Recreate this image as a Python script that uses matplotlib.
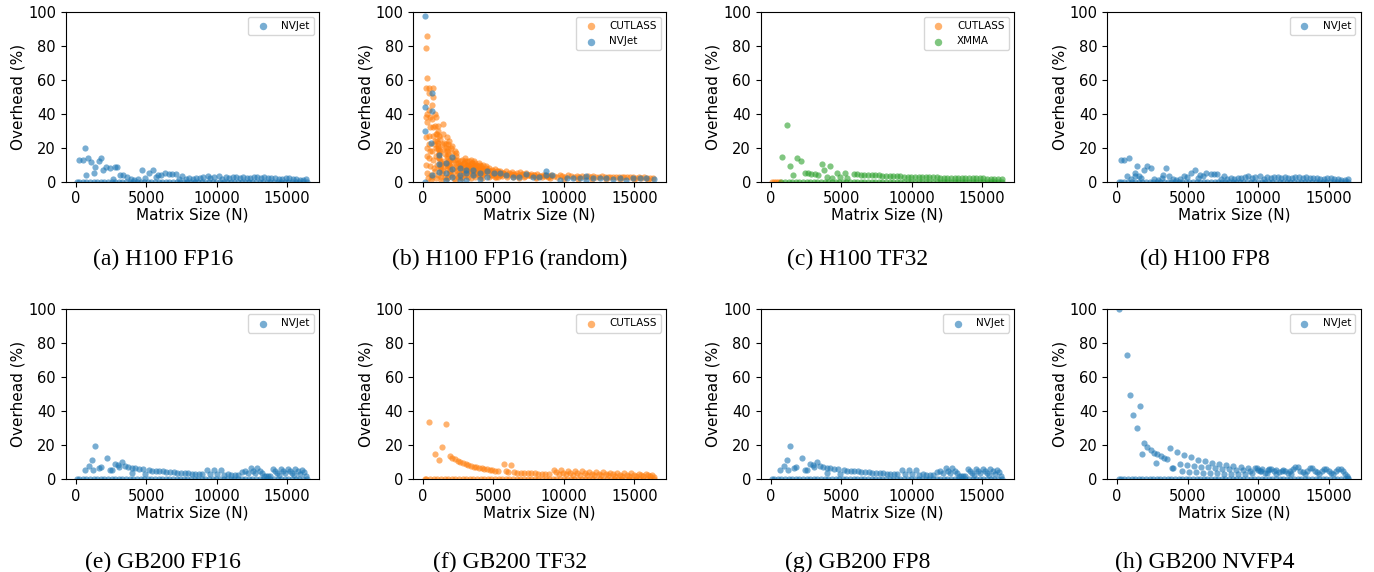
import matplotlib.pyplot as plt
import numpy as np

# matrix sizes where every kernel also has a run with ~0% overhead
sizes = [128, 256, 512, 768, 1024, 1280, 1536, 1792, 2048, 2304, 2560, 2816, 3072,
         3328, 3584, 3840, 4096, 4352, 4608, 4864, 5120, 5376, 5632, 5888, 6144,
         6400, 6656, 6912, 7168, 7424, 7680, 7936, 8192, 8448, 8704, 8960, 9216,
         9472, 9728, 9984, 10240, 10496, 10752, 11008, 11264, 11520, 11776, 12032,
         12288, 12544, 12800, 13056, 13312, 13568, 13824, 14080, 14336, 14592,
         14848, 15104, 15360, 15616, 15872, 16128, 16384]

# (a) H100 FP16, NVJet
a_x = [256, 512, 640, 750, 870, 1110, 1275, 1390, 1630, 1800, 1915, 2150, 2410, 2690,
       2810, 2930, 3170, 3400, 3640, 3900, 4150, 4400, 4700, 4940, 5230, 5490, 5700,
       5840, 6080, 6320, 6620, 6860, 7100, 7350, 7550, 7800, 8050, 8300, 8550, 8800,
       9050, 9390, 9550, 9800, 10150, 10400, 10650, 10900, 11150, 11400, 11650, 11900,
       12150, 12400, 12650, 12900, 13150, 13400, 13650, 13900, 14150, 14400, 14650,
       14900, 15150, 15400, 15650, 15900, 16150, 16380]
a_y = [12.5, 12.5, 20.0, 4.1, 14.1, 11.4, 5.3, 8.8, 12.2, 14.1, 6.9, 8.8, 8.1, 1.4,
       8.8, 8.8, 3.9, 3.7, 2.9, 1.5, 1.0, 1.5, 6.9, 1.9, 4.9, 7.1, 2.5,
       3.7, 3.9, 5.3, 4.3, 4.7, 4.7, 1.5, 3.5, 1.5, 2.0, 1.5, 2.0, 2.0,
       2.5, 3.3, 2.0, 2.5, 3.3, 1.8, 2.5, 2.0, 2.5, 2.8, 2.0, 2.5,
       2.0, 2.2, 2.5, 2.5, 2.0, 2.5, 2.0, 2.0, 2.0, 1.8, 1.5,
       2.2, 2.0, 1.5, 1.5, 1.2, 1.0, 1.5]

# (b) H100 FP16 (random), CUTLASS and NVJet
b_cut_x = [200, 280, 300, 250, 230, 260, 220, 300, 240, 270, 320, 250, 300, 350,
           400, 450, 420, 480, 500, 430, 460, 520, 450, 500, 550, 600,
           700, 720, 650, 680, 750, 700, 760, 640, 720, 780, 680,
           850, 900, 880, 920, 860, 950, 900, 980, 870, 950,
           1050, 1100, 1150, 1200, 1100, 1250, 1150, 1300, 1200, 1050, 1300,
           1400, 1450, 1500, 1400, 1550, 1500, 1600, 1450, 1550,
           1700, 1750, 1800, 1700, 1850, 1750, 1900, 1800,
           2000, 2100, 2050, 2150, 2000, 2200, 2100, 2200,
           2400, 2500, 2600, 2450, 2550, 2700, 2800, 2900, 3000, 3100, 3200, 3000,
           3300, 3100, 3400, 3500, 3600, 3700, 3800, 3900, 4000, 4100, 4200, 4300,
           4400, 3500, 3700, 4000, 4200, 4500, 2650, 2950, 3250, 3550, 3850, 4150,
           4700, 4900, 5100, 5300, 5500, 5700, 5900, 6100, 6300, 6500, 6700, 6900,
           7100, 7300, 7500, 4800, 5200, 5600, 6000, 6400, 6800, 7200,
           7700, 7900, 8100, 8300, 8500, 8700, 8900, 9100, 9300, 9500, 9700, 9900,
           10100, 10300, 10500, 10700, 10900, 11100, 11300, 11500, 11700, 11900,
           12100, 12300, 12500, 12700, 12900, 13100, 13300, 13500, 13700, 13900,
           14100, 14300, 14500, 14700, 14900, 15100, 15300, 15500, 15700, 15900,
           16100, 16300, 8000, 9000, 10000, 11000, 12000, 13000, 14000, 15000, 16000]
b_cut_y = [78.5, 85.5, 61.0, 55.0, 47.0, 40.0, 38.0, 35.0, 26.0, 20.0, 15.0, 10.0, 5.0, 2.0,
           52.0, 55.0, 42.0, 38.0, 32.0, 27.0, 22.0, 18.0, 14.0, 9.0, 4.0, 1.0,
           55.0, 50.0, 45.0, 37.0, 32.0, 27.0, 22.0, 18.0, 13.0, 8.0, 3.0,
           40.0, 38.0, 33.0, 28.0, 24.0, 20.0, 15.0, 10.0, 6.0, 2.0,
           33.0, 30.0, 27.0, 25.0, 21.0, 18.0, 14.0, 11.0, 8.0, 4.0, 1.0,
           34.0, 28.0, 23.0, 19.0, 16.0, 12.0, 9.0, 6.0, 3.0,
           26.0, 22.0, 19.0, 15.0, 12.0, 9.0, 6.0, 3.0,
           20.0, 21.0, 17.0, 14.0, 11.0, 8.0, 5.0, 2.0,
           13.0, 11.0, 9.0, 7.0, 5.0, 3.0, 13.0, 11.0, 14.0, 12.0, 10.0, 8.0,
           6.0, 4.0, 13.0, 11.0, 12.0, 9.0, 10.0, 7.0, 11.0, 9.0, 8.0, 10.0,
           6.0, 5.0, 3.0, 4.0, 2.0, 9.0, 10.0, 6.0, 9.0, 7.0, 5.0, 6.5,
           8.0, 7.0, 7.5, 6.0, 6.5, 5.0, 6.0, 5.0, 5.5, 4.5, 5.0, 5.5,
           4.5, 5.0, 4.0, 4.0, 3.0, 3.5, 2.5, 3.0, 2.0, 3.0,
           4.5, 4.0, 4.5, 3.5, 4.0, 4.0, 3.5, 4.0, 3.5, 3.0, 4.0, 3.5,
           3.0, 4.0, 3.5, 3.0, 3.5, 3.0, 3.5, 3.0, 3.5, 3.0,
           3.2, 3.0, 2.8, 3.2, 3.0, 2.8, 3.0, 2.5, 3.0, 2.8,
           2.5, 2.8, 2.6, 2.5, 2.7, 2.4, 2.6, 2.3, 2.5, 2.2,
           2.4, 2.0, 2.0, 2.0, 1.8, 1.8, 1.5, 1.5, 1.5, 1.5, 1.2]
# more CUTLASS runs filling the dense cloud between 1000 and 9000
b_cut2_x = [1000, 1080, 1160, 1240, 1320, 1020, 1100, 1180, 1260, 1340, 1060, 1140, 1220, 1300, 1380,
            1620, 1680, 1760, 1840, 1920, 1980, 1640, 1720, 1800, 1880, 1960, 1660, 1740, 1820, 1900,
            2250, 2300, 2350, 2420, 2480, 2320, 2380, 2440, 2260, 2340,
            2600, 2700, 2800, 2900, 3000, 3100, 3200, 3300, 3400, 3500, 2650, 2750, 2850, 2950, 3050,
            3150, 3250, 3350, 3450, 3550, 2620, 2780, 2980, 3180, 3380, 3580,
            3650, 3750, 3850, 3950, 4050, 4150, 4250, 4350, 4450, 4550, 3680, 3880, 4080, 4280, 4480,
            3620, 3820, 4020, 4220, 4420,
            4650, 4750, 4850, 4950, 5050, 5150, 5250, 5350, 5450, 5550, 4700, 4900, 5100, 5300, 5500,
            5650, 5850, 6050, 6250, 6450, 6650, 6850, 7050, 7250, 7450, 7650, 7850, 8050, 8250,
            8450, 8650, 8850, 9050]
b_cut2_y = [24, 20, 16, 12, 7, 28, 23, 17, 10, 5, 19, 14, 9, 3, 22,
            22, 18, 14, 10, 7, 4, 11, 8, 16, 5, 13, 20, 2, 24, 9,
            18, 13, 9, 6, 3, 15, 11, 4, 1, 17,
            12, 10, 8, 6, 12, 10, 8, 9, 7, 11, 9, 7, 5, 11, 9,
            7, 12, 6, 10, 8, 3, 2, 4, 3, 2, 5,
            9, 8, 7, 6, 8, 7, 6, 5, 7, 6, 11, 9, 10, 6, 8,
            4, 5, 3, 4, 5,
            7, 6, 5, 6, 5, 4, 6, 5, 4, 5, 3, 4, 3, 3, 4,
            5, 4.5, 4, 4.5, 4, 3.5, 4, 4.5, 3.5, 4, 3.5, 4, 3, 3.5,
            3, 3.5, 3, 3.5]
b_nv_x = [163, 163, 163, 163, 600, 682, 682, 680, 1110, 1157, 1157, 1630, 1630, 1630,
          2100, 2100, 2100, 2600, 2600, 2600, 3070, 3070, 3070, 3540, 3540, 4020, 4020,
          4570, 4570, 5040, 5440, 5900, 6370, 6840, 7310, 7780, 8250, 8720, 8720, 9190,
          9730, 10200, 10670, 11140, 11600, 11600, 12080, 12550, 13020, 13490, 13960,
          14430, 14900, 15370, 15840, 16380]
b_nv_y = [97.5, 44.0, 29.8, 0.0, 23.0, 52.4, 41.8, 3.9, 10.2, 15.7, 5.5, 10.8, 5.0, 1.0,
          14.3, 7.3, 2.5, 7.8, 3.9, 1.0, 7.0, 5.0, 1.2, 7.0, 4.0, 5.0, 1.5,
          6.5, 3.0, 5.0, 5.3, 4.0, 3.0, 3.0, 4.5, 3.0, 2.8, 6.5, 4.0, 3.9,
          1.0, 2.0, 2.0, 2.0, 3.3, 1.0, 2.0, 2.0, 2.0, 1.7, 2.0,
          1.0, 2.0, 2.0, 2.0, 1.5]

# (c) H100 TF32, CUTLASS and XMMA
c_cut_x = [128, 256, 384, 512, 640]
c_cut_y = [0.0, 0.0, 0.0, 0.0, 0.0]
c_xm_x = [827, 1186, 1346, 1584, 1867, 2127, 2411, 2648, 2884, 3121, 3358, 3665, 3783,
          3980, 4186, 4350, 4733, 4900, 5254, 5450,
          5888, 6144, 6400, 6656, 6912, 7168, 7424, 7680, 7936, 8192, 8448, 8704, 8960,
          9216, 9472, 9728, 9984, 10240, 10496, 10752, 11008, 11264, 11520, 11776,
          12032, 12288, 12544, 12800, 13056, 13312, 13568, 13824, 14080, 14336, 14592,
          14848, 15104, 15360, 15616, 15872, 16128, 16384]
c_xm_y = [14.3, 33.4, 9.2, 3.9, 13.7, 12.0, 5.3, 4.9, 4.5, 4.3, 3.9, 10.4, 6.8,
          2.9, 9.2, 2.0, 5.3, 2.5, 4.9, 2.0,
          4.4, 4.3, 4.2, 4.1, 4.0, 3.9, 3.8, 3.7, 3.6, 3.5, 3.4, 3.3, 3.2,
          3.1, 3.05, 3.0, 2.9, 2.85, 2.8, 2.7, 2.65, 2.6, 2.55, 2.5, 2.45,
          2.4, 2.35, 2.3, 2.25, 2.2, 2.15, 2.1, 2.05, 2.0, 1.95,
          1.9, 1.9, 1.85, 1.8, 1.75, 1.7, 1.7]

# (d) H100 FP8, NVJet
d_x = [256, 512, 730, 870, 1000, 1230, 1280, 1420, 1550, 1700, 1880, 2150, 2410, 2600,
       2900, 3150, 3270, 3460, 3700, 3950, 4200, 4450, 4707, 4944, 5228, 5488, 5700,
       5843, 6080, 6317, 6625, 6862, 7098, 7350, 7548, 7800, 8050, 8300, 8550, 8800,
       9050, 9300, 9550, 9800, 10100, 10400, 10650, 10900, 11150, 11400, 11650, 11900,
       12150, 12400, 12650, 12900, 13150, 13400, 13650, 13900, 14150, 14400, 14650,
       14900, 15150, 15400, 15650, 15900, 16150, 16380]
d_y = [12.5, 12.5, 3.3, 14.1, 1.5, 3.3, 5.3, 9.2, 3.5, 2.0, 6.9, 9.2, 8.3, 1.5,
       1.0, 2.0, 4.0, 7.9, 3.5, 1.5, 1.2, 1.5, 3.3, 3.0, 4.9, 7.1, 2.0,
       3.7, 3.3, 5.3, 4.5, 4.7, 4.3, 1.5, 3.5, 1.5, 2.0, 1.8, 2.0, 2.2,
       2.5, 3.3, 2.2, 2.5, 3.3, 1.8, 2.5, 2.0, 2.5, 2.8, 2.0, 2.5,
       2.0, 2.2, 2.5, 2.5, 2.0, 2.5, 2.0, 2.0, 2.0, 1.8, 1.5,
       2.2, 2.0, 1.5, 1.5, 1.2, 1.0, 1.5]

# (e) GB200 FP16, NVJet
e_x = [640, 920, 1155, 1230, 1392, 1630, 1820, 2200, 2460, 2580, 2770, 3000, 3100, 3310,
       3500, 3750, 4000, 4250, 4500, 4750, 4000, 4900, 5200, 5450, 5700, 5950, 6200,
       6450, 6700, 6950, 7200, 7500, 7750, 8000, 8250, 8500, 8750, 9000, 9300, 9550,
       9800, 10050, 10300, 10550, 10800, 11050, 11300, 11550, 11800, 12000, 12200,
       12450, 12600, 12750, 12900, 13050, 13200, 13350, 13500, 13650, 13800, 14000,
       14150, 14300, 14450, 14550, 14700, 14850, 15050, 15200, 15350, 15500, 15600,
       15750, 15900, 16050, 16200, 16350]
e_y = [5.3, 7.7, 11.2, 5.1, 19.3, 6.3, 7.3, 12.3, 5.1, 5.1, 8.9, 8.0, 7.0, 9.8,
       7.5, 7.0, 6.7, 6.3, 6.0, 5.7, 3.3, 2.7, 5.1, 5.0, 4.9, 4.7, 4.5,
       4.0, 4.2, 4.0, 3.8, 3.5, 3.6, 3.4, 3.0, 3.2, 2.8, 3.0, 5.5, 3.0,
       5.3, 2.8, 5.1, 2.6, 2.7, 2.6, 2.5, 2.5, 4.3, 4.8, 3.5,
       6.5, 5.0, 3.8, 6.3, 4.8, 3.3, 2.0, 2.0, 2.0, 1.5, 6.0,
       4.8, 3.5, 2.2, 6.0, 4.8, 3.5, 6.0, 4.8, 3.5, 2.2, 5.8,
       4.5, 3.2, 5.5, 4.0, 2.0]

# (f) GB200 TF32, CUTLASS
f_x = [400, 870, 1140, 1370, 1650, 1890, 2080, 2270, 2460, 2650, 2840, 3030, 3220, 3410,
       3600, 3790, 3980, 4170, 4360, 4550, 4740, 4930, 5120, 5310, 5750, 5900, 6050,
       6250, 6450, 6700, 6950, 7200, 7450, 7700, 7950, 8200, 8450, 8700, 8950,
       9300, 9470, 9640, 9800, 9970, 10140, 10300, 10470, 10640, 10800, 10970, 11140,
       11300, 11470, 11640, 11800, 11970, 12140, 12300, 12470, 12640, 12800, 12970,
       13140, 13300, 13470, 13640, 13800, 13970, 14140, 14300, 14470, 14640, 14800,
       14970, 15140, 15300, 15470, 15640, 15800, 15970, 16140, 16250, 16380]
f_y = [33.5, 14.5, 11.2, 19.0, 32.5, 13.7, 12.5, 11.5, 10.6, 9.9, 9.2, 8.6, 8.1, 7.6,
       7.2, 6.8, 6.5, 6.2, 5.9, 5.6, 5.4, 5.2, 5.0, 4.8, 8.9, 4.6, 4.4,
       8.3, 3.9, 3.8, 3.7, 3.6, 3.5, 3.4, 3.3, 3.2, 3.1, 3.0, 2.9,
       5.5, 4.0, 2.8, 5.2, 3.8, 2.7, 5.0, 3.6, 2.6, 4.8, 3.4, 2.5,
       4.6, 3.3, 2.4, 4.4, 3.2, 2.3, 4.2, 3.0, 2.2, 4.0, 2.9,
       2.1, 3.8, 2.7, 2.0, 3.6, 2.6, 1.9, 3.5, 2.5, 1.8, 3.3,
       2.4, 1.7, 3.2, 2.3, 1.6, 3.1, 2.2, 1.5, 2.6, 1.0]

# (g) GB200 FP8, NVJet -- reads the same as (e) in the picture
g_x = list(e_x)
g_y = list(e_y)

# (h) GB200 NVFP4, NVJet
h_x = [140, 666, 900, 1136, 1420, 1654, 1775, 1893, 2130, 2370, 2600, 2790, 2840, 3080,
       3320, 3550, 3740, 3860, 3970,
       4240, 4750, 5250, 5750, 6250, 6750, 7250, 7750, 8250, 8750, 9250, 9750, 10250,
       10750, 11250, 11750, 12250,
       4450, 4950, 5450, 5950, 6450, 6950, 7450, 7950, 8450, 8950, 9450, 9950,
       4600, 5100, 5600, 6100, 6600, 7100, 7600, 8100, 8600, 9100, 9600, 10100, 10600,
       10000, 10200, 10500, 10700, 10900, 11100, 11300, 11500, 11700, 11900, 12100,
       12300, 12500, 12650, 12850, 13000, 13150, 13300, 13500, 13650, 13850, 14000,
       14150, 14300, 14500, 14650, 14850, 15000, 15150, 15300, 15500, 15650, 15850,
       16000, 16150, 16300, 16380]
h_y = [100.0, 72.9, 49.3, 37.4, 30.0, 42.8, 14.5, 21.3, 18.7, 17.0, 15.5, 9.4, 14.5, 13.5,
       12.5, 11.7, 18.3, 6.5, 6.5,
       16.0, 14.3, 12.7, 11.4, 10.4, 9.5, 8.8, 8.2, 7.6, 7.1, 6.7, 6.3, 6.0,
       5.7, 5.4, 5.1, 4.9,
       8.9, 8.3, 7.8, 7.3, 6.9, 6.5, 6.1, 5.8, 5.5, 5.3, 5.0, 6.5,
       4.5, 4.2, 3.9, 3.7, 3.5, 3.3, 3.1, 3.0, 2.9, 2.8, 3.5, 4.5, 3.5,
       5.5, 4.5, 3.5, 5.5, 5.8, 4.5, 3.0, 4.0, 5.0, 4.5, 3.5,
       3.0, 6.0, 7.0, 7.0, 5.0, 4.0, 3.0, 5.0, 6.5, 6.5, 5.0,
       4.0, 3.0, 4.5, 6.0, 6.0, 4.5, 3.5, 3.0, 4.5, 5.8, 5.8,
       4.5, 3.0, 2.0, 0.5]

captions = ["(a) H100 FP16", "(b) H100 FP16 (random)", "(c) H100 TF32", "(d) H100 FP8",
            "(e) GB200 FP16", "(f) GB200 TF32", "(g) GB200 FP8", "(h) GB200 NVFP4"]

BLUE, ORANGE, GREEN = "tab:blue", "tab:orange", "tab:green"

# each panel: list of (label, color, x, y, zero-overhead sizes)
panels = [
    [("NVJet", BLUE, a_x, a_y, sizes)],
    [("CUTLASS", ORANGE, b_cut_x + b_cut2_x, b_cut_y + b_cut2_y, []),
     ("NVJet", BLUE, b_nv_x, b_nv_y, [])],
    [("CUTLASS", ORANGE, c_cut_x, c_cut_y, []), ("XMMA", GREEN, c_xm_x, c_xm_y, sizes[3:])],
    [("NVJet", BLUE, d_x, d_y, sizes)],
    [("NVJet", BLUE, e_x, e_y, sizes)],
    [("CUTLASS", ORANGE, f_x, f_y, sizes)],
    [("NVJet", BLUE, g_x, g_y, sizes)],
    [("NVJet", BLUE, h_x, h_y, sizes)],
]

W, H = 1374, 572
fig = plt.figure(figsize=(W / 100, H / 100), dpi=100)

lefts = [65.7, 413, 760.7, 1107.3]
tops = [11.7, 309]
ax_w, ax_h = 253.3, 170
cap_x = [163, 510, 858, 1205]
cap_y = [265, 568]

for i, series in enumerate(panels):
    r, c = divmod(i, 4)
    ax = fig.add_axes([lefts[c] / W, 1 - (tops[r] + ax_h) / H, ax_w / W, ax_h / H])
    for label, color, xs, ys, zx in series:
        allx = list(xs) + list(zx)
        ally = list(ys) + [0.0] * len(zx)
        ax.scatter(allx, ally, s=20, color=color, alpha=0.6, linewidths=0, label=label)
    ax.set_xlim(-700, 17270)
    ax.set_ylim(0, 100)
    ax.set_xticks([0, 5000, 10000, 15000])
    ax.set_yticks([0, 20, 40, 60, 80, 100])
    ax.tick_params(labelsize=10.5)
    ax.set_xlabel("Matrix Size (N)", fontsize=11, labelpad=1)
    ax.set_ylabel("Overhead (%)", fontsize=11, labelpad=1.5)
    ax.legend(loc="upper right", fontsize=7.5, markerscale=1.2)
    fig.text(cap_x[c] / W, 1 - cap_y[r] / H, captions[i], ha="center", va="baseline",
             fontsize=17, family="Liberation Serif")

fig.savefig("out.png", dpi=100)
